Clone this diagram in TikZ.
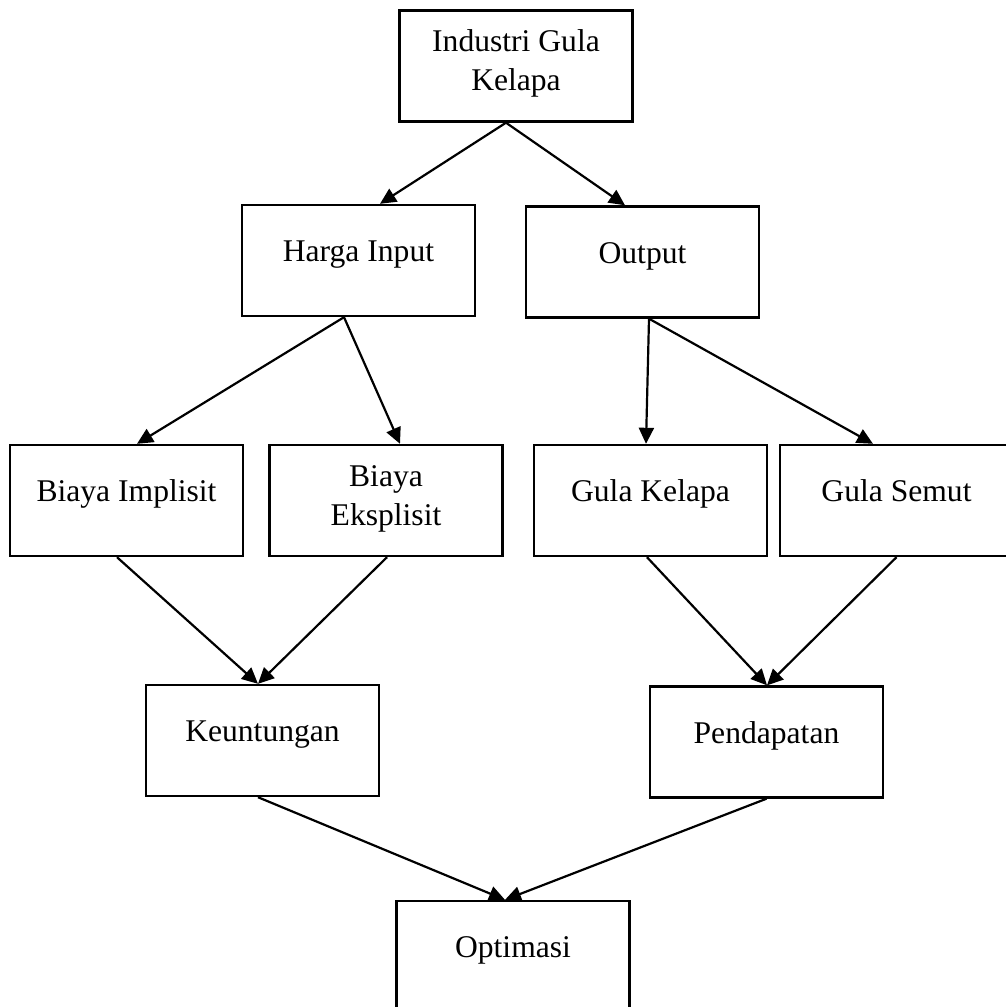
\documentclass[tikz,border=0pt]{standalone}
\usepackage{fontspec}
\setmainfont{Liberation Serif}
\usetikzlibrary{arrows.meta,calc}

\begin{document}
\begin{tikzpicture}[x=0.5pt,y=0.5pt,yscale=-1,xscale=1,
  box/.style={draw,line width=1.2pt,inner sep=0pt,minimum width=116.5pt,minimum height=55.5pt,
    font=\fontsize{15.8}{19.5}\selectfont,text height=8.5pt,text depth=7.5pt},
  boxtwo/.style={box,text height=8pt,text depth=22.5pt},
  link/.style={line width=1.1pt,-{Triangle[length=8pt,width=7.5pt]}}]
\useasboundingbox (0,0) rectangle (1006,1007);

%Shape: Rectangle
\node [boxtwo] (industri) at (516,66) {\begin{tabular}[t]{@{}c@{}}Industri Gula\\Kelapa\end{tabular}};
%Shape: Rectangle
\node [box] (harga) at (358.5,260.5) {Harga Input};
%Shape: Rectangle
\node [box] (output) at (642.5,262) {Output};
%Shape: Rectangle
\node [box] (implisit) at (126.5,500.5) {Biaya Implisit};
%Shape: Rectangle
\node [boxtwo] (eksplisit) at (386,500.5) {\begin{tabular}[t]{@{}c@{}}Biaya\\Eksplisit\end{tabular}};
%Shape: Rectangle
\node [box] (gkelapa) at (650.5,500.5) {Gula Kelapa};
%Shape: Rectangle
\node [box] (gsemut) at (896.5,500.5) {Gula Semut};
%Shape: Rectangle
\node [box] (untung) at (262.5,740.5) {Keuntungan};
%Shape: Rectangle
\node [box] (dapat) at (766.5,742) {Pendapatan};
%Shape: Rectangle
\node [box] (optimasi) at (513,956.5) {Optimasi};

%Straight Lines
\draw [link] ($(industri.south)+(-10,0)$) -- ($(harga.north)+(21.5,0)$);
\draw [link] ($(industri.south)+(-10,0)$) -- ($(output.north)+(-17.5,0)$);
%Straight Lines
\draw [link] ($(harga.south)+(-14.5,0)$) -- ($(implisit.north)+(10.5,0)$);
\draw [link] ($(harga.south)+(-14.5,0)$) -- ($(eksplisit.north)+(14,0)$);
%Straight Lines
\draw [link] ($(output.south)+(6.5,0)$) -- ($(gkelapa.north)+(-4.5,0)$);
\draw [link] ($(output.south)+(6.5,0)$) -- ($(gsemut.north)+(-23.5,0)$);
%Straight Lines
\draw [link] ($(implisit.south)+(-9.5,0)$) -- ($(untung.north)+(-4.5,0)$);
\draw [link] ($(eksplisit.south)+(1,0)$) -- ($(untung.north)+(-4.5,0)$);
%Straight Lines
\draw [link] ($(gkelapa.south)+(-3.5,0)$) -- ($(dapat.north)+(0.5,0)$);
\draw [link] (gsemut.south) -- ($(dapat.north)+(0.5,0)$);
%Straight Lines
\draw [link] ($(untung.south)+(-4.5,0)$) -- ($(optimasi.north)+(-8,0)$);
\draw [link] (dapat.south) -- ($(optimasi.north)+(-8,0)$);

\end{tikzpicture}
\end{document}
